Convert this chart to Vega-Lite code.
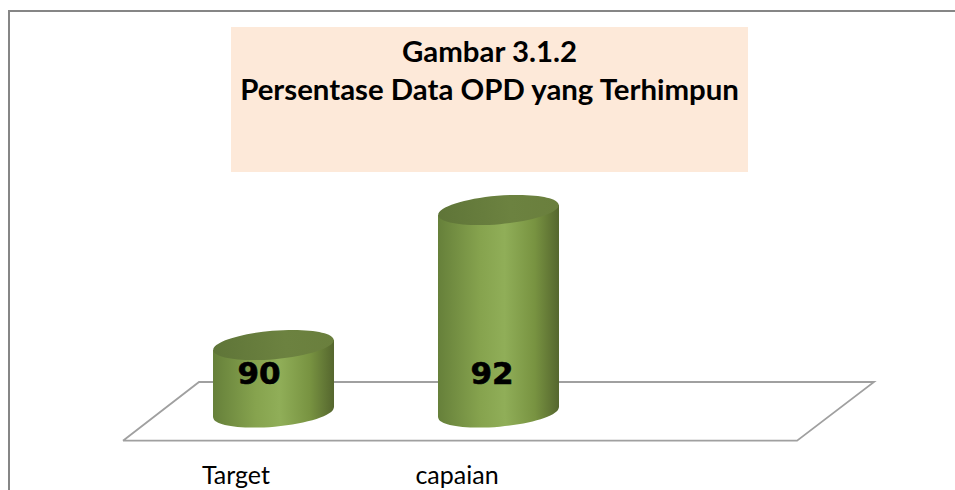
{
"$schema":"https://vega.github.io/schema/vega-lite/v6.json",
"width":955,"height":490,"padding":0,
"autosize":"none",
"background":"white",
"config":{"view":{"stroke":null}},
"datasets":{
"frame":[{"x":-0.1756,"y":87.852,"i":0},{"x":-0.1756,"y":94.948,"i":1},{"x":4.0289,"y":94.948,"i":2}],
"box":[{"x":0.8111,"x2":3.1089,"y":94.711,"y2":92.563}],
"title":[{"x":1.96,"y":94.326,"t":"Gambar 3.1.2"},{"x":1.96,"y":93.763,"t":"Persentase Data OPD yang Terhimpun"}],
"floor":[{"x":0.331,"y":88.582,"i":0},{"x":3.327,"y":88.582,"i":1},{"x":3.669,"y":89.452,"i":2},{"x":0.669,"y":89.452,"i":3},{"x":0.331,"y":88.582,"i":4}],
"bars":[{"name":"Target","value":90,"x":1,"y":90,"base":89,"labelX":0.833,"valueX":0.9356},{"name":"capaian","value":92,"x":2,"y":92,"base":89,"labelX":1.8156,"valueX":1.971}],
"sides":[
{"name":"Target","x":0.7311,"y":89.926,"base":88.926},{"name":"Target","x":1.2689,"y":90.074,"base":89.074},
{"name":"capaian","x":1.7311,"y":91.926,"base":88.926},{"name":"capaian","x":2.2689,"y":92.074,"base":89.074}]
},
"encoding":{
"x":{"field":"x","type":"quantitative","axis":null,"scale":{"domain":[-0.2156,4.0289],"nice":false,"zero":false}},
"y":{"field":"y","type":"quantitative","axis":null,"scale":{"domain":[87.852,95.111],"nice":false,"zero":false}}
},
"layer":[
{"data":{"name":"frame"},"mark":{"type":"line","color":"#868686","strokeWidth":2,"clip":false},"encoding":{"order":{"field":"i"}}},
{"data":{"name":"box"},"mark":{"type":"rect","fill":"#fde9d9"},"encoding":{"x2":{"field":"x2"},"y2":{"field":"y2"}}},
{"data":{"name":"title"},"mark":{"type":"text","font":"Lato","fontWeight":"bold","fontSize":29.4,"color":"#000000","align":"center","baseline":"middle"},"encoding":{"text":{"field":"t"}}},
{"data":{"name":"floor"},"mark":{"type":"line","color":"#a0a0a0","strokeWidth":1.8},"encoding":{"order":{"field":"i"}}},
{"data":{"name":"bars"},"mark":{"type":"point","filled":true,"opacity":1,"size":14641,"angle":-5,"shape":"M -1 0 A 1 0.235 0 1 1 1 0 A 1 0.235 0 1 1 -1 0 Z",
 "fill":{"gradient":"linear","x1":0,"y1":0,"x2":1,"y2":0,"stops":[{"offset":0,"color":"#66803a"},{"offset":0.35,"color":"#86a34e"},{"offset":0.55,"color":"#90ae58"},{"offset":0.8,"color":"#789341"},{"offset":1,"color":"#55662e"}]}},
 "encoding":{"y":{"field":"base","type":"quantitative","axis":null,"scale":{"domain":[87.852,95.111],"nice":false,"zero":false}}}},
{"data":{"name":"sides"},"mark":{"type":"area","orient":"vertical",
 "fill":{"gradient":"linear","x1":0,"y1":0,"x2":1,"y2":0,"stops":[{"offset":0,"color":"#66803a"},{"offset":0.35,"color":"#86a34e"},{"offset":0.55,"color":"#90ae58"},{"offset":0.8,"color":"#789341"},{"offset":1,"color":"#55662e"}]}},
 "encoding":{"y2":{"field":"base"},"detail":{"field":"name"}}},
{"data":{"name":"bars"},"mark":{"type":"point","filled":true,"opacity":1,"size":14641,"angle":-5,"shape":"M -1 0 A 1 0.235 0 1 1 1 0 A 1 0.235 0 1 1 -1 0 Z",
 "fill":{"gradient":"linear","x1":0,"y1":0,"x2":1,"y2":0,"stops":[{"offset":0,"color":"#5f7538"},{"offset":0.6,"color":"#6c8240"},{"offset":1,"color":"#6a7f3d"}]}}},
{"data":{"name":"bars"},"mark":{"type":"text","font":"DejaVu Sans","fontWeight":"bold","fontSize":31,"color":"#000000","stroke":"#000000","strokeWidth":0.6,"align":"center","baseline":"middle"},
 "encoding":{"x":{"field":"valueX","type":"quantitative","axis":null,"scale":{"domain":[-0.2156,4.0289],"nice":false,"zero":false}},"y":{"datum":89.556,"axis":null,"scale":{"domain":[87.852,95.111],"nice":false,"zero":false}},"text":{"field":"value"}}},
{"data":{"name":"bars"},"mark":{"type":"text","font":"Lato","fontSize":25,"color":"#000000","align":"center","baseline":"middle"},
 "encoding":{"x":{"field":"labelX","type":"quantitative","axis":null,"scale":{"domain":[-0.2156,4.0289],"nice":false,"zero":false}},"y":{"datum":88.059,"axis":null,"scale":{"domain":[87.852,95.111],"nice":false,"zero":false}},"text":{"field":"name"}}}
]
}
